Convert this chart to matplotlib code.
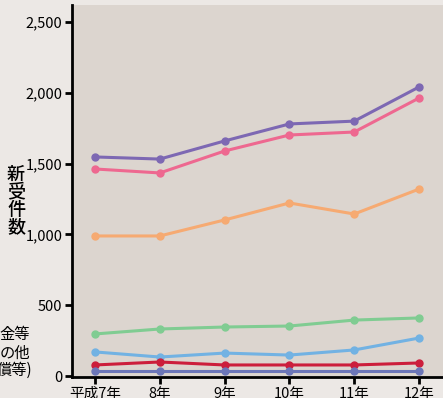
import matplotlib
matplotlib.use("Agg")
import matplotlib.pyplot as plt

plt.rcParams['font.family'] = ['Noto Sans CJK JP', 'DejaVu Sans']

years = ["平成7年", "8年", "9年", "10年", "11年", "12年"]
total = [1547, 1532, 1660, 1780, 1800, 2041]
pink = [1462, 1434, 1589, 1702, 1723, 1963]
orange = [989, 989, 1102, 1222, 1144, 1320]
green = [297, 332, 346, 353, 395, 410]
blue = [170, 134, 162, 148, 184, 268]
red = [78, 99, 78, 78, 78, 92]
navy = [35, 35, 35, 35, 35, 35]

series = [
    (total, "#7d68b3"),
    (pink, "#ee6890"),
    (orange, "#f6aa72"),
    (green, "#80cc92"),
    (blue, "#72b2e3"),
    (red, "#cc1e3c"),
    (navy, "#6c76b8"),
]

fig = plt.figure(figsize=(4.43, 3.98), dpi=100, facecolor="#ece8e5")
ax = fig.add_axes([72/443, 21/398, (443-72)/443, 372/398])
ax.set_facecolor("#dcd5cf")

x = list(range(len(years)))
for vals, c in series:
    ax.plot(x, vals, color=c, lw=2.2, marker="o", ms=5, solid_capstyle="round")

ax.set_xlim(-0.355, 5.37)
ax.set_ylim(-7, 2620)
ax.set_yticks([0, 500, 1000, 1500, 2000, 2500])
ax.set_yticklabels(["0", "500", "1,000", "1,500", "2,000", "2,500"])
ax.set_xticks(x)
ax.set_xticklabels(years)
for s in ["top", "right"]:
    ax.spines[s].set_visible(False)
for s in ["left", "bottom"]:
    ax.spines[s].set_linewidth(2)
ax.tick_params(axis="both", length=5, width=2, labelsize=10.5, pad=2)

fig.text(16/443, 1 - 201/398, "新\n受\n件\n数", ha="center", va="center",
         fontsize=13, linespacing=0.95, fontweight="medium")
fig.text(30/443, 1 - 335/398, "金等", ha="right", va="center", fontsize=11)
fig.text(30/443, 1 - 353/398, "の他", ha="right", va="center", fontsize=11)
fig.text(32/443, 1 - 370/398, "償等)", ha="right", va="center", fontsize=11)

fig.savefig("out.png", dpi=100, facecolor=fig.get_facecolor())
